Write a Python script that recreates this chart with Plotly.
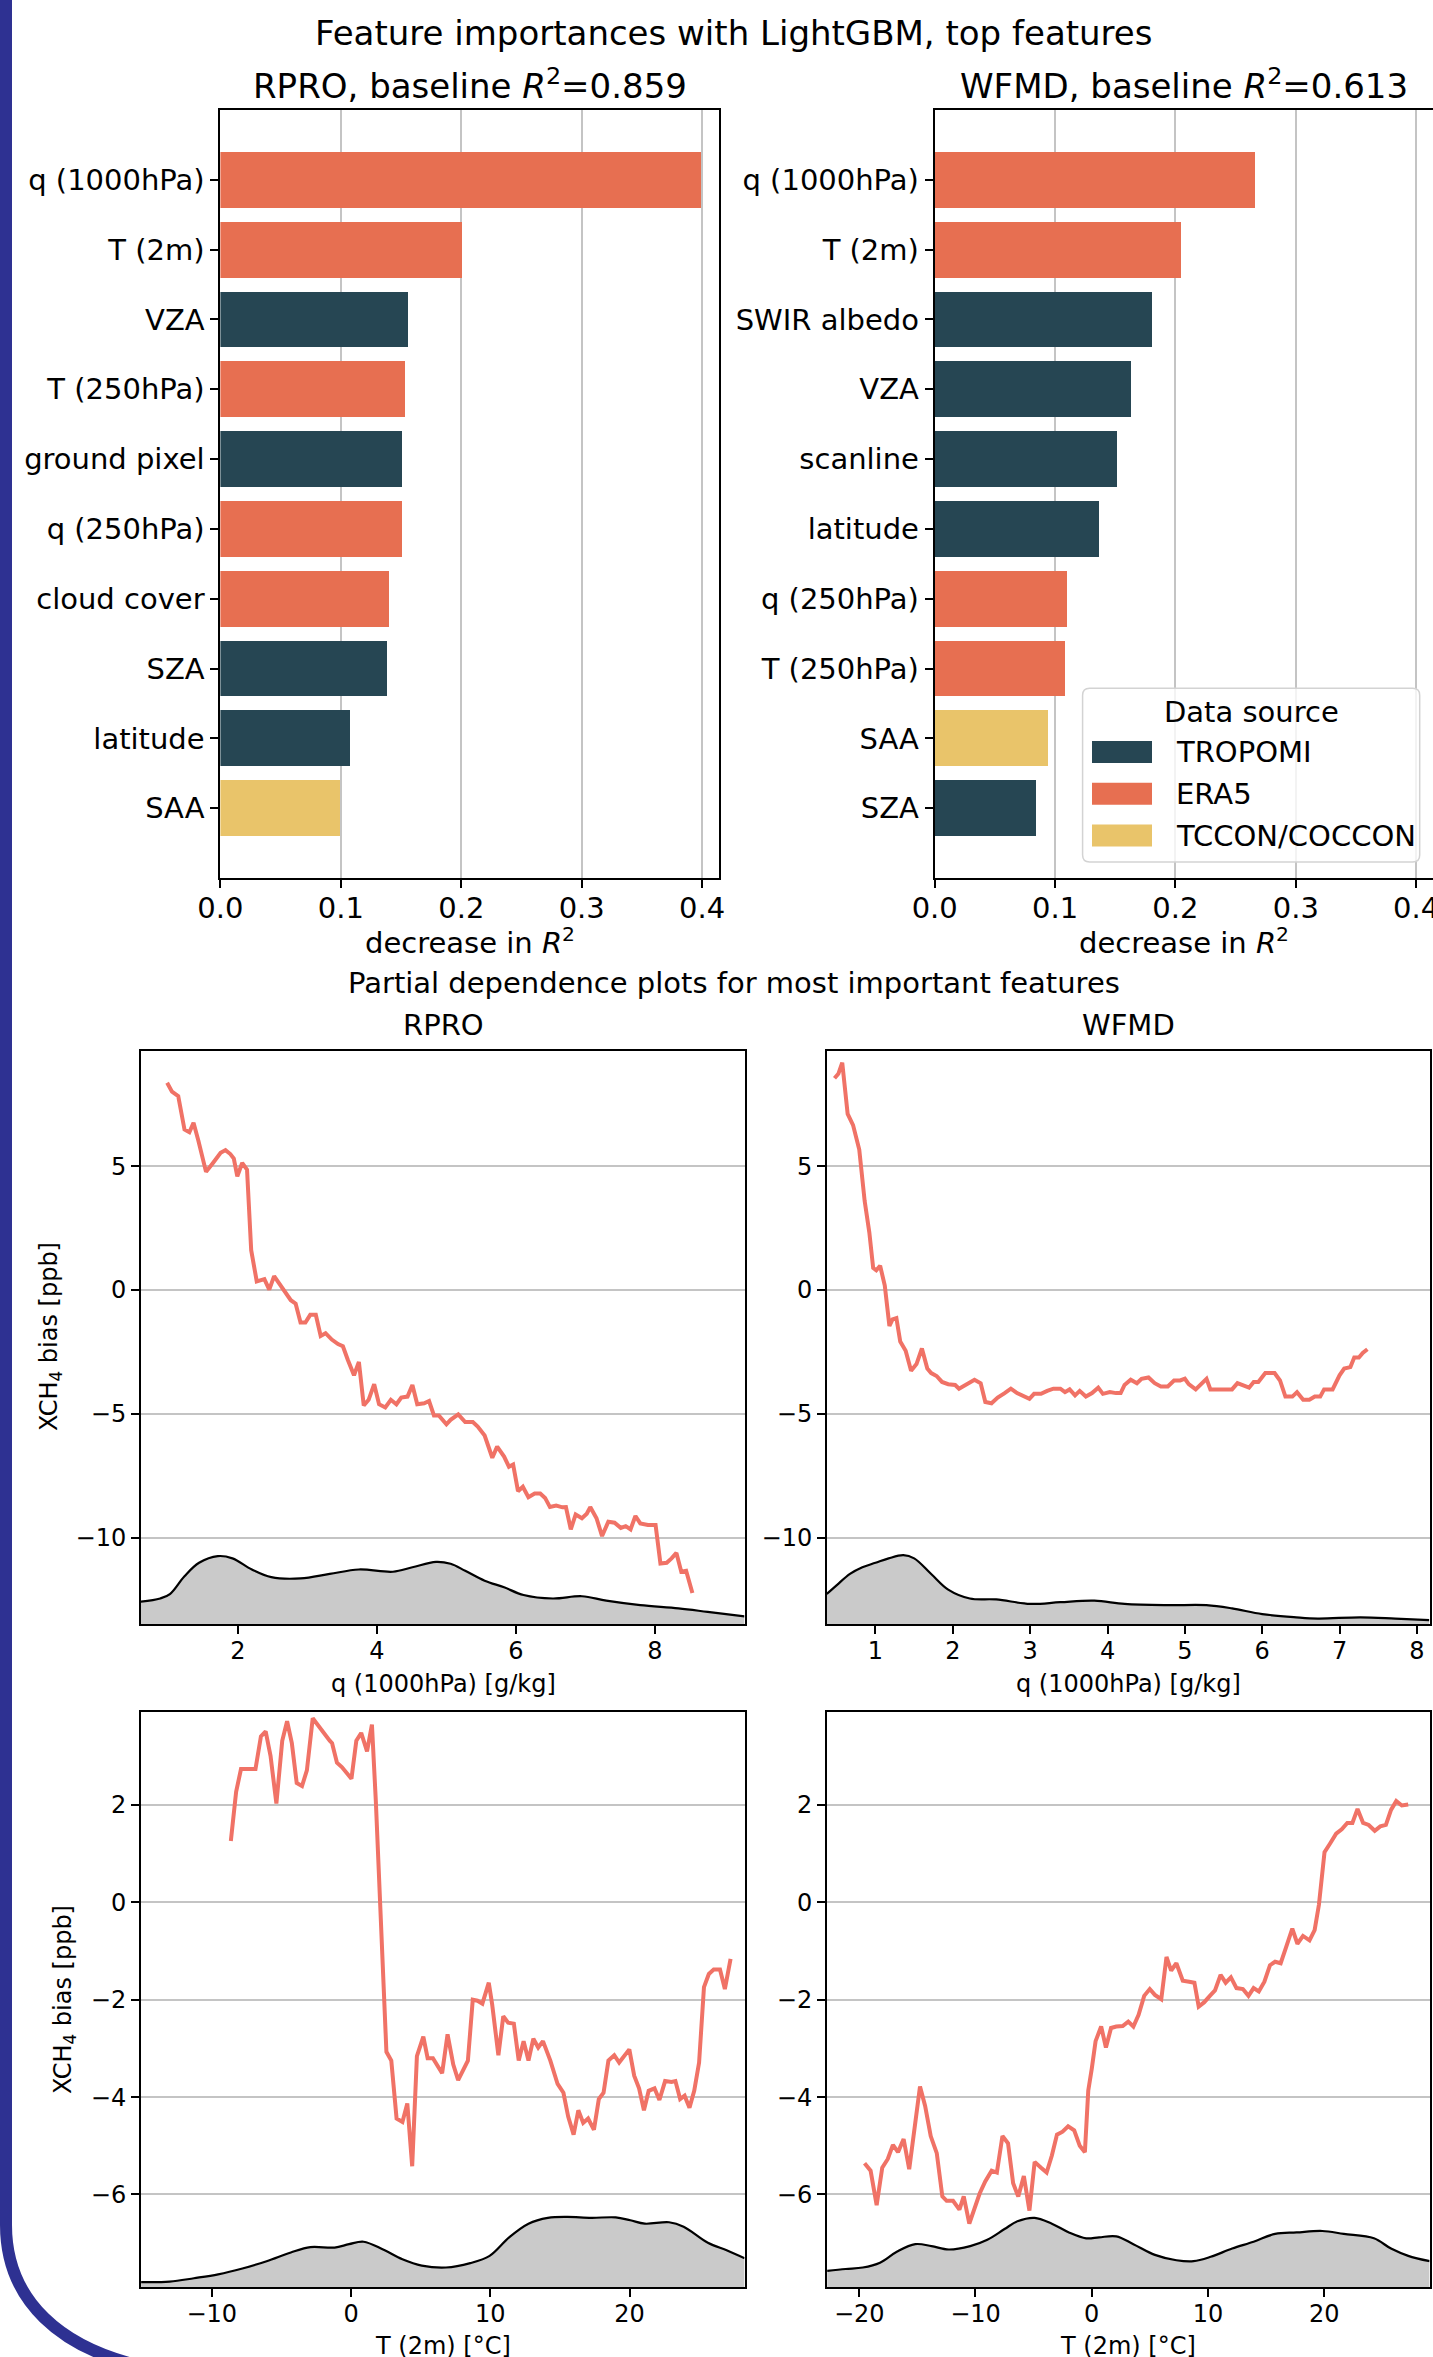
import plotly.graph_objects as go

# ---------------------------------------------------------------- data
SOURCES = ["TROPOMI", "ERA5", "TCCON/COCCON"]
SOURCE_COLORS = {"TROPOMI": "#264653", "ERA5": "#E76F51", "TCCON/COCCON": "#E9C46A"}

RPRO_FEATURES = ["q (1000hPa)", "T (2m)", "VZA", "T (250hPa)", "ground pixel",
                 "q (250hPa)", "cloud cover", "SZA", "latitude", "SAA"]
RPRO_IMPORTANCE = [0.399, 0.201, 0.156, 0.154, 0.151, 0.151, 0.140, 0.139, 0.108, 0.100]
RPRO_SOURCE = ["ERA5", "ERA5", "TROPOMI", "ERA5", "TROPOMI",
               "ERA5", "ERA5", "TROPOMI", "TROPOMI", "TCCON/COCCON"]

WFMD_FEATURES = ["q (1000hPa)", "T (2m)", "SWIR albedo", "VZA", "scanline",
                 "latitude", "q (250hPa)", "T (250hPa)", "SAA", "SZA"]
WFMD_IMPORTANCE = [0.266, 0.204, 0.180, 0.163, 0.151, 0.136, 0.110, 0.108, 0.094, 0.084]
WFMD_SOURCE = ["ERA5", "ERA5", "TROPOMI", "TROPOMI", "TROPOMI",
               "TROPOMI", "ERA5", "ERA5", "TCCON/COCCON", "TROPOMI"]

IMPORTANCE_TICKS = [0.0, 0.1, 0.2, 0.3, 0.4]

# partial dependence of the XCH4 bias on q (1000hPa), RPRO
RPRO_Q_PDP = [
    (0.98, 8.37), (1.05, 8.01), (1.14, 7.83), (1.23, 6.48), (1.30, 6.37), (1.36, 6.75),
    (1.43, 6.03), (1.54, 4.77), (1.64, 5.13), (1.75, 5.54), (1.82, 5.65), (1.89, 5.49),
    (1.94, 5.31), (1.99, 4.59), (2.06, 5.13), (2.13, 4.86), (2.19, 1.61), (2.27, 0.35),
    (2.38, 0.44), (2.45, 0.02), (2.52, 0.56), (2.59, 0.26), (2.66, 0.02), (2.76, -0.41),
    (2.83, -0.55), (2.90, -1.31), (2.97, -1.31), (3.04, -1.00), (3.12, -1.00), (3.19, -1.85),
    (3.26, -1.74), (3.35, -2.00), (3.44, -2.18), (3.51, -2.27), (3.58, -2.81), (3.67, -3.44),
    (3.74, -2.90), (3.81, -4.66), (3.88, -4.43), (3.96, -3.80), (4.03, -4.61), (4.12, -4.74),
    (4.20, -4.43), (4.28, -4.61), (4.35, -4.34), (4.44, -4.30), (4.51, -3.83), (4.58, -4.61),
    (4.68, -4.57), (4.75, -4.48), (4.82, -5.06), (4.89, -5.06), (5.00, -5.42), (5.06, -5.24),
    (5.17, -5.02), (5.27, -5.33), (5.38, -5.33), (5.45, -5.51), (5.55, -5.87), (5.66, -6.77),
    (5.73, -6.32), (5.83, -6.72), (5.90, -7.13), (5.96, -7.04), (6.03, -8.12), (6.10, -7.94),
    (6.18, -8.36), (6.27, -8.21), (6.35, -8.21), (6.42, -8.39), (6.49, -8.76), (6.58, -8.70),
    (6.67, -8.77), (6.72, -8.76), (6.79, -9.66), (6.86, -9.06), (6.95, -9.21), (7.02, -9.03),
    (7.07, -8.76), (7.16, -9.21), (7.24, -9.93), (7.33, -9.35), (7.42, -9.39), (7.51, -9.60),
    (7.58, -9.53), (7.65, -9.66), (7.72, -9.12), (7.79, -9.42), (7.90, -9.48), (8.01, -9.48),
    (8.08, -11.04), (8.17, -11.01), (8.24, -10.83), (8.31, -10.61), (8.38, -11.37),
    (8.45, -11.33), (8.54, -12.23),
]
RPRO_Q_DENSITY = [
    (0.60, -12.58), (0.88, -12.45), (1.02, -12.27), (1.23, -11.55), (1.44, -11.01),
    (1.71, -10.74), (1.92, -10.83), (2.20, -11.28), (2.48, -11.59), (2.90, -11.64),
    (3.32, -11.46), (3.74, -11.28), (4.23, -11.37), (4.51, -11.19), (4.85, -10.97),
    (5.06, -11.05), (5.27, -11.33), (5.55, -11.73), (5.83, -12.00), (6.11, -12.31),
    (6.53, -12.45), (6.95, -12.36), (7.30, -12.54), (7.79, -12.72), (8.34, -12.85),
    (8.76, -12.99), (9.29, -13.17),
]

# partial dependence of the XCH4 bias on q (1000hPa), WFMD
WFMD_Q_PDP = [
    (0.47, 8.55), (0.52, 8.73), (0.57, 9.18), (0.64, 7.11), (0.71, 6.66), (0.79, 5.67),
    (0.86, 3.59), (0.92, 2.33), (0.97, 0.89), (1.01, 0.80), (1.06, 0.98), (1.12, 0.18),
    (1.18, -1.45), (1.22, -1.18), (1.27, -1.13), (1.32, -2.08), (1.39, -2.45), (1.46, -3.26),
    (1.53, -2.99), (1.60, -2.36), (1.67, -3.17), (1.72, -3.35), (1.79, -3.47), (1.86, -3.71),
    (1.94, -3.80), (2.03, -3.83), (2.08, -3.98), (2.16, -3.83), (2.22, -3.76), (2.28, -3.62),
    (2.36, -3.76), (2.42, -4.52), (2.50, -4.57), (2.58, -4.34), (2.67, -4.16), (2.75, -3.98),
    (2.83, -4.16), (2.92, -4.30), (2.99, -4.39), (3.05, -4.19), (3.14, -4.19), (3.22, -4.07),
    (3.30, -3.98), (3.39, -3.98), (3.45, -4.12), (3.51, -4.01), (3.58, -4.25), (3.64, -4.07),
    (3.72, -4.30), (3.80, -4.16), (3.88, -3.94), (3.94, -4.19), (4.03, -4.12), (4.11, -4.16),
    (4.17, -4.16), (4.22, -3.83), (4.30, -3.62), (4.38, -3.76), (4.44, -3.58), (4.53, -3.53),
    (4.61, -3.76), (4.69, -3.89), (4.78, -3.89), (4.86, -3.65), (4.94, -3.65), (5.00, -3.58),
    (5.05, -3.80), (5.14, -4.01), (5.21, -3.80), (5.28, -3.58), (5.33, -4.01), (5.44, -4.01),
    (5.53, -3.98), (5.61, -4.01), (5.68, -3.76), (5.75, -3.83), (5.83, -3.94), (5.89, -3.71),
    (5.95, -3.71), (6.04, -3.35), (6.16, -3.35), (6.23, -3.65), (6.30, -4.30), (6.39, -4.30),
    (6.45, -4.12), (6.53, -4.43), (6.61, -4.43), (6.68, -4.30), (6.75, -4.30), (6.80, -4.01),
    (6.91, -4.01), (7.00, -3.44), (7.06, -3.17), (7.14, -3.11), (7.19, -2.72), (7.25, -2.72),
    (7.30, -2.54), (7.36, -2.39),
]
WFMD_Q_DENSITY = [
    (0.37, -12.27), (0.50, -11.91), (0.67, -11.46), (0.83, -11.19), (1.00, -11.01),
    (1.17, -10.83), (1.36, -10.70), (1.50, -10.83), (1.72, -11.46), (1.94, -12.09),
    (2.22, -12.45), (2.56, -12.49), (3.00, -12.67), (3.39, -12.60), (3.83, -12.54),
    (4.22, -12.67), (4.78, -12.72), (5.28, -12.72), (5.61, -12.85), (6.00, -13.08),
    (6.44, -13.21), (6.72, -13.26), (7.27, -13.21), (7.72, -13.26), (8.16, -13.32),
]

# partial dependence of the XCH4 bias on T (2m), RPRO
RPRO_T_PDP = [
    (-8.63, 1.26), (-8.25, 2.27), (-7.90, 2.74), (-7.45, 2.74), (-6.86, 2.74), (-6.47, 3.41),
    (-6.13, 3.51), (-5.78, 3.01), (-5.36, 2.03), (-4.94, 3.32), (-4.59, 3.72), (-4.25, 3.27),
    (-3.90, 2.45), (-3.52, 2.39), (-3.17, 2.71), (-2.75, 3.78), (-2.37, 3.63), (-1.95, 3.49),
    (-1.53, 3.32), (-1.36, 3.27), (-1.01, 2.87), (-0.66, 2.78), (-0.31, 2.65), (0.03, 2.54),
    (0.38, 3.32), (0.73, 3.48), (1.15, 3.10), (1.50, 3.65), (1.78, 2.08), (2.12, -0.05),
    (2.54, -3.07), (2.89, -3.25), (3.27, -4.44), (3.69, -4.51), (4.04, -4.13), (4.39, -5.42),
    (4.73, -3.16), (5.19, -2.76), (5.50, -3.20), (5.88, -3.20), (6.23, -3.38), (6.54, -3.51),
    (6.93, -2.71), (7.34, -3.33), (7.69, -3.65), (8.04, -3.47), (8.39, -3.25), (8.74, -2.00),
    (9.08, -2.02), (9.43, -2.08), (9.89, -1.65), (10.13, -2.09), (10.58, -3.14),
    (10.93, -2.34), (11.28, -2.47), (11.69, -2.49), (12.04, -3.25), (12.39, -2.85),
    (12.74, -3.25), (13.09, -2.80), (13.44, -2.98), (13.78, -2.85), (14.31, -3.25),
    (14.83, -3.73), (15.25, -3.91), (15.59, -4.40), (15.98, -4.77), (16.32, -4.27),
    (16.67, -4.53), (17.02, -4.44), (17.44, -4.67), (17.79, -4.04), (18.13, -3.91),
    (18.48, -3.25), (18.90, -3.14), (19.25, -3.29), (19.70, -3.14), (19.98, -3.02),
    (20.33, -3.56), (20.68, -3.82), (21.03, -4.27), (21.37, -3.87), (21.79, -3.82),
    (22.14, -4.06), (22.55, -3.67), (23.01, -3.69), (23.29, -3.67), (23.63, -4.04),
    (23.95, -3.97), (24.30, -4.22), (24.64, -3.87), (24.99, -3.29), (25.34, -1.74),
    (25.69, -1.47), (26.04, -1.38), (26.49, -1.38), (26.84, -1.78), (27.25, -1.16),
]
RPRO_T_DENSITY = [
    (-15.07, -7.80), (-13.02, -7.79), (-11.28, -7.72), (-9.54, -7.64), (-7.80, -7.52),
    (-6.06, -7.37), (-4.32, -7.19), (-2.92, -7.08), (-1.18, -7.09), (-0.14, -7.02),
    (0.90, -6.97), (2.30, -7.13), (3.69, -7.33), (5.08, -7.46), (6.82, -7.50),
    (8.56, -7.41), (9.95, -7.26), (11.35, -6.88), (12.74, -6.60), (14.13, -6.48),
    (15.52, -6.46), (17.26, -6.48), (19.00, -6.47), (20.05, -6.53), (21.09, -6.60),
    (22.83, -6.57), (23.88, -6.66), (25.62, -6.99), (27.01, -7.15), (28.26, -7.31),
]

# partial dependence of the XCH4 bias on T (2m), WFMD
WFMD_T_PDP = [
    (-19.54, -5.36), (-19.02, -5.51), (-18.50, -6.22), (-18.02, -5.45), (-17.54, -5.27),
    (-17.10, -4.98), (-16.66, -5.13), (-16.18, -4.86), (-15.70, -5.48), (-15.25, -4.71),
    (-14.77, -3.78), (-14.33, -4.18), (-13.85, -4.80), (-13.33, -5.15), (-12.85, -6.04),
    (-12.48, -6.13), (-11.93, -6.13), (-11.38, -6.31), (-11.01, -6.04), (-10.53, -6.60),
    (-10.08, -6.31), (-9.64, -5.98), (-9.16, -5.73), (-8.61, -5.51), (-8.16, -5.55),
    (-7.68, -4.80), (-7.20, -4.95), (-6.76, -5.77), (-6.32, -6.04), (-5.84, -5.62),
    (-5.36, -6.33), (-4.91, -5.33), (-4.36, -5.45), (-3.88, -5.55), (-3.43, -5.20),
    (-2.99, -4.77), (-2.51, -4.71), (-2.03, -4.60), (-1.51, -4.68), (-1.03, -5.00),
    (-0.59, -5.13), (-0.30, -3.87), (0.00, -3.42), (0.33, -2.85), (0.81, -2.55),
    (1.22, -2.98), (1.66, -2.58), (2.11, -2.55), (2.66, -2.54), (3.14, -2.45), (3.58, -2.55),
    (4.03, -2.31), (4.51, -1.92), (4.99, -1.78), (5.43, -1.90), (5.98, -1.99), (6.43, -1.12),
    (6.83, -1.40), (7.28, -1.25), (7.83, -1.61), (8.38, -1.63), (8.83, -1.65), (9.20, -2.14),
    (9.68, -2.05), (10.16, -1.92), (10.60, -1.81), (11.08, -1.49), (11.52, -1.65),
    (11.97, -1.54), (12.45, -1.76), (13.00, -1.78), (13.48, -1.92), (13.92, -1.76),
    (14.37, -1.83), (14.85, -1.63), (15.33, -1.29), (15.77, -1.22), (16.25, -1.25),
    (16.69, -0.94), (17.25, -0.54), (17.69, -0.85), (18.17, -0.69), (18.73, -0.78),
    (19.17, -0.57), (19.54, -0.05), (19.83, 0.57), (20.02, 1.03), (20.50, 1.21),
    (21.02, 1.41), (21.50, 1.50), (21.98, 1.63), (22.42, 1.63), (22.86, 1.92), (23.34, 1.63),
    (23.82, 1.59), (24.34, 1.47), (24.82, 1.56), (25.30, 1.59), (25.74, 1.90), (26.19, 2.08),
    (26.67, 1.99), (27.22, 2.01),
]
WFMD_T_DENSITY = [
    (-22.75, -7.57), (-21.16, -7.53), (-19.69, -7.50), (-18.21, -7.40), (-16.73, -7.17),
    (-15.18, -7.02), (-13.78, -7.06), (-12.30, -7.13), (-10.45, -7.06), (-8.98, -6.93),
    (-7.50, -6.71), (-6.39, -6.55), (-4.91, -6.48), (-3.43, -6.60), (-1.96, -6.78),
    (-0.48, -6.90), (0.63, -6.88), (2.11, -6.86), (3.58, -7.02), (5.43, -7.24),
    (7.28, -7.35), (8.75, -7.37), (10.23, -7.28), (12.08, -7.11), (13.92, -6.97),
    (15.77, -6.81), (17.62, -6.78), (19.83, -6.75), (21.68, -6.81), (24.27, -6.90),
    (25.74, -7.11), (27.22, -7.26), (29.07, -7.37),
]

# ---------------------------------------------------------------- layout helpers
W, H = 1433, 2357
FONT = "DejaVu Sans"
PDP_COLOR = "#F07266"
DENSITY_FILL = "#CACACA"
GRID = "#C4C4C4"


def fx(x):
    return x / W


def fy(y):
    return 1 - y / H


def text(s, x, y, size, **kw):
    return dict(text=s, x=fx(x), y=fy(y), xref="paper", yref="paper",
                showarrow=False, xanchor=kw.pop("xanchor", "center"),
                yanchor=kw.pop("yanchor", "middle"),
                font=dict(family=FONT, size=size, color="black"), **kw)


def frame_axis(**kw):
    base = dict(showline=True, mirror=True, linecolor="black", linewidth=2,
                ticks="outside", ticklen=8, tickwidth=2, tickcolor="black",
                zeroline=False, automargin=False, fixedrange=True)
    base.update(kw)
    return base


fig = go.Figure()

# ---------------------------------------------------------------- feature importances
for k, (feats, imp, src) in enumerate([(RPRO_FEATURES, RPRO_IMPORTANCE, RPRO_SOURCE),
                                       (WFMD_FEATURES, WFMD_IMPORTANCE, WFMD_SOURCE)]):
    ax = "" if k == 0 else "2"
    fig.add_trace(go.Bar(
        x=imp, y=feats, orientation="h", width=0.8,
        marker=dict(color=[SOURCE_COLORS[s] for s in src], line=dict(width=0)),
        xaxis="x" + ax, yaxis="y" + ax, showlegend=False, hoverinfo="x+y",
    ))

bar_x_range = [0, 0.414]
bar_dom_y = [fy(878), fy(110)]
bar_tick_font = dict(family=FONT, size=29, color="black")

layout_axes = dict(
    xaxis=frame_axis(domain=[fx(220.4), fx(719)], anchor="y", range=bar_x_range,
                     tickvals=IMPORTANCE_TICKS, tickformat=".1f", showgrid=True,
                     gridcolor=GRID, gridwidth=2, tickfont=bar_tick_font,
                     ticklabelstandoff=-5),
    yaxis=frame_axis(domain=bar_dom_y, anchor="x", type="category",
                     categoryorder="array", categoryarray=RPRO_FEATURES,
                     range=[10, -1], showgrid=False, tickfont=bar_tick_font),
    xaxis2=frame_axis(domain=[fx(934.7), 1.0], anchor="y2", range=bar_x_range,
                      tickvals=IMPORTANCE_TICKS, tickformat=".1f", showgrid=True,
                      gridcolor=GRID, gridwidth=2, tickfont=bar_tick_font,
                      ticklabelstandoff=-5, ticklabeloverflow="allow"),
    yaxis2=frame_axis(domain=bar_dom_y, anchor="x2", type="category",
                      categoryorder="array", categoryarray=WFMD_FEATURES,
                      range=[10, -1], showgrid=False, tickfont=bar_tick_font),
)

# ---------------------------------------------------------------- partial dependence
pdp_font = dict(family=FONT, size=24, color="black")
row1_y = [-13.48, 9.67]
row2_y = [-7.90, 3.91]
panels = [
    # axis id, curve, density, x range, y range, x dom, y dom, x ticks
    ("3", RPRO_Q_PDP, RPRO_Q_DENSITY, [0.604, 9.29], row1_y, (141, 744.5), (1050.5, 1624), [2, 4, 6, 8]),
    ("4", WFMD_Q_PDP, WFMD_Q_DENSITY, [0.373, 8.163], row1_y, (827, 1429.5), (1050.5, 1624), [1, 2, 3, 4, 5, 6, 7, 8]),
    ("5", RPRO_T_PDP, RPRO_T_DENSITY, [-15.08, 28.25], row2_y, (141, 744.5), (1712, 2287), [-10, 0, 10, 20]),
    ("6", WFMD_T_PDP, WFMD_T_DENSITY, [-22.77, 29.05], row2_y, (827, 1429.5), (1712, 2287), [-20, -10, 0, 10, 20]),
]
Y_TICKS = {"3": [5, 0, -5, -10], "4": [5, 0, -5, -10],
           "5": [2, 0, -2, -4, -6], "6": [2, 0, -2, -4, -6]}

for ax, curve, dens, xr, yr, xd, yd, xt in panels:
    dx, dy = zip(*dens)
    # floor of the panel, used as the base of the shaded density
    fig.add_trace(go.Scatter(x=dx, y=[yr[0]] * len(dx), mode="lines",
                             line=dict(width=0, color="rgba(0,0,0,0)"),
                             xaxis="x" + ax, yaxis="y" + ax, showlegend=False,
                             hoverinfo="skip"))
    fig.add_trace(go.Scatter(x=dx, y=dy, mode="lines", fill="tonexty",
                             fillcolor=DENSITY_FILL, line=dict(color="black", width=2.2),
                             line_shape="spline",
                             xaxis="x" + ax, yaxis="y" + ax, showlegend=False,
                             hoverinfo="skip"))
    cx, cy = zip(*curve)
    fig.add_trace(go.Scatter(x=cx, y=cy, mode="lines",
                             line=dict(color=PDP_COLOR, width=4),
                             xaxis="x" + ax, yaxis="y" + ax, showlegend=False))
    layout_axes["xaxis" + ax] = frame_axis(domain=[fx(xd[0]), fx(xd[1])], anchor="y" + ax,
                                           range=xr, tickvals=xt, showgrid=False,
                                           tickfont=pdp_font, ticklabelstandoff=-4)
    layout_axes["yaxis" + ax] = frame_axis(domain=[fy(yd[1]), fy(yd[0])], anchor="x" + ax,
                                           range=yr, tickvals=Y_TICKS[ax], showgrid=True,
                                           gridcolor=GRID, gridwidth=2, tickfont=pdp_font)

# ---------------------------------------------------------------- legend (Data source)
shapes = []


def rounded_box(x0, y0, x1, y1, r):
    rx, ry = r / W, r / H
    a, b, c, d = fx(x0), fy(y0), fx(x1), fy(y1)
    return (f"M{a + rx},{b} L{c - rx},{b} Q{c},{b} {c},{b - ry} "
            f"L{c},{d + ry} Q{c},{d} {c - rx},{d} L{a + rx},{d} Q{a},{d} {a},{d + ry} "
            f"L{a},{b - ry} Q{a},{b} {a + rx},{b} Z")


shapes.append(dict(type="path", xref="paper", yref="paper",
                   path=rounded_box(1082.6, 688.3, 1419.7, 862, 7),
                   fillcolor="rgba(255,255,255,0.8)", line=dict(color="#D3D3D3", width=1.5)))
annotations = [text("Data source", 1251, 712, 29)]
for i, src in enumerate(SOURCES):
    yc = 752 + i * 41.8
    shapes.append(dict(type="rect", xref="paper", yref="paper",
                       x0=fx(1092), x1=fx(1152), y0=fy(yc + 11), y1=fy(yc - 11),
                       fillcolor=SOURCE_COLORS[src], line=dict(width=0)))
    annotations.append(text(src, 1174, yc, 29, xanchor="left"))

# ---------------------------------------------------------------- titles
annotations += [
    text("Feature importances with LightGBM, top features", 733, 33, 34),
    text("RPRO, baseline <i>R</i><sup>2</sup>=0.859", 470, 84, 34),
    text("WFMD, baseline <i>R</i><sup>2</sup>=0.613", 1184, 84, 34),
    text("decrease in <i>R</i><sup>2</sup>", 470, 941, 29),
    text("decrease in <i>R</i><sup>2</sup>", 1184, 941, 29),
    text("Partial dependence plots for most important features", 734, 983, 29),
    text("RPRO", 443, 1025, 29),
    text("WFMD", 1128, 1025, 29),
    text("q (1000hPa) [g/kg]", 443, 1684, 24),
    text("q (1000hPa) [g/kg]", 1128, 1684, 24),
    text("T (2m) [°C]", 443, 2346, 24),
    text("T (2m) [°C]", 1128, 2346, 24),
    text("XCH<sub>4</sub> bias [ppb]", 50, 1337, 24, textangle=-90),
    text("XCH<sub>4</sub> bias [ppb]", 64, 1999, 24, textangle=-90),
]

# slide frame on the left with its rounded lower corner
frame_pts = [(6, -20), (6, 2225), (6, 2300), (60, 2350), (150, 2368)]
p = [(fx(x), fy(y)) for x, y in frame_pts]
shapes.append(dict(type="path", xref="paper", yref="paper",
                   path=(f"M{p[0][0]},{p[0][1]} L{p[1][0]},{p[1][1]} "
                         f"C{p[2][0]},{p[2][1]} {p[3][0]},{p[3][1]} {p[4][0]},{p[4][1]}"),
                   line=dict(color="#2E3192", width=12)))

fig.update_layout(
    template="none",
    width=W, height=H,
    margin=dict(l=0, r=0, t=0, b=0, pad=0),
    paper_bgcolor="white", plot_bgcolor="white",
    font=dict(family=FONT, color="black"),
    showlegend=False,
    bargap=0,
    shapes=shapes,
    annotations=annotations,
    **layout_axes,
)

fig.write_html("out.html", config={"displayModeBar": False})
